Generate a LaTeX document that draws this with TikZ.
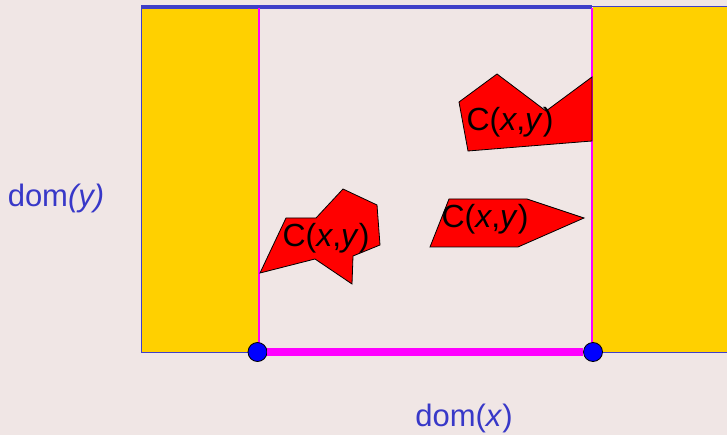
\documentclass[tikz,border=0pt]{standalone}
\usepackage{fontspec}
\setmainfont{Liberation Sans}
\definecolor{bgc}{HTML}{F0E6E5}
\definecolor{yel}{HTML}{FFD000}
\definecolor{frameblue}{HTML}{4040C8}
\definecolor{txtblue}{HTML}{3838C8}
\definecolor{mag}{HTML}{FF00FF}
\definecolor{dotblue}{HTML}{0000FF}
\begin{document}
\begin{tikzpicture}[x=1pt,y=-1pt,
  region/.style={fill=yel,draw=none},
  blob/.style={fill=red,draw=black,line width=0.8pt,line join=miter},
  lbl/.style={font=\fontsize{32}{38}\selectfont,inner sep=0pt},
  domlbl/.style={font=\fontsize{31}{37}\selectfont,text=txtblue,inner sep=0pt},
  enddot/.style={circle,fill=dotblue,draw=black,line width=0.8pt,minimum size=19pt,inner sep=0pt}]
\fill[bgc] (0,0) rectangle (727,435);
\useasboundingbox (0,0) rectangle (727,435);
% yellow regions
\fill[region] (142,7) rectangle (258,352);
\fill[region] (593,7) rectangle (730,352);
% outer frame
\draw[frameblue,line width=1.8pt] (730,6.5) -- (141.5,6.5) -- (141.5,352.5) -- (258,352.5);
\draw[frameblue,line width=1.8pt] (592,352.5) -- (730,352.5);
\draw[frameblue,line width=3.5pt] (141,7) -- (592,7);
% magenta verticals
\draw[mag,line width=2pt] (258.5,8) -- (258.5,352);
\draw[mag,line width=2pt] (592,8) -- (592,352);
% shapes
\draw[blob] (459,102) -- (497,74) -- (546,111) -- (592,77) -- (592,141) -- (468,151) -- cycle;
\draw[blob] (260,273) -- (286,218) -- (316,218) -- (343,189) -- (377,205) -- (380,245) -- (353,256) -- (352,284) -- (315,259) -- cycle;
\draw[blob] (430,247) -- (449,199) -- (527,199) -- (584,218) -- (518,247) -- cycle;
\node[lbl] (c1) at (510,122) {C(\textit{x},\textit{y})};
\node[lbl] (c2) at (326,238) {C(\textit{x},\textit{y})};
\node[lbl] (c3) at (485,219) {C(\textit{x},\textit{y})};
% domain segment
\node[enddot] (p1) at (257.5,352) {};
\node[enddot] (p2) at (593,352) {};
\draw[mag,line width=8pt] (p1.east) -- (p2.west);
% labels
\node[domlbl] (dy) at (56,198) {dom\textit{(y)}};
\node[domlbl] (dx) at (464,418) {dom(\textit{x})};
\end{tikzpicture}
\end{document}
